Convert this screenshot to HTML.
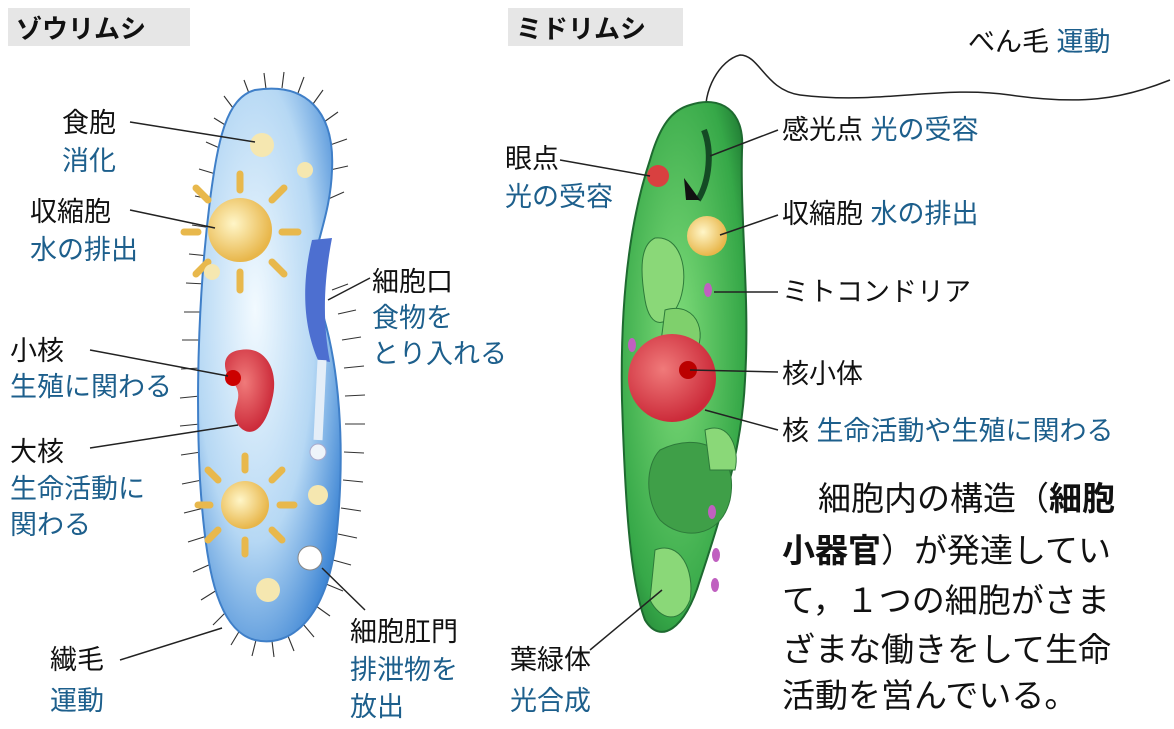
<!DOCTYPE html>
<html><head><meta charset="utf-8"><style>
html,body{margin:0;padding:0;background:#fff;}
svg{display:block;}
text{font-family:"Liberation Sans","Noto Sans CJK JP",sans-serif;font-size:27px;}
.k{fill:#111;}
.b{fill:#1d5f8c;}
.t{font-weight:bold;font-size:26px;fill:#111;}
.ln{stroke:#222;stroke-width:1.5;fill:none;}
.p{font-size:33px;fill:#111;}
</style></head><body>
<svg width="1174" height="729" viewBox="0 0 1174 729">
<defs>
<radialGradient id="gb" cx="40%" cy="40%" r="70%"><stop offset="0" stop-color="#f2faff"/><stop offset="0.6" stop-color="#b6d8f4"/><stop offset="1" stop-color="#3f86d4"/></radialGradient>
<radialGradient id="gg" cx="45%" cy="45%" r="70%"><stop offset="0" stop-color="#7fdc7a"/><stop offset="0.75" stop-color="#36a848"/><stop offset="1" stop-color="#1a6e2e"/></radialGradient>
<radialGradient id="gr" cx="40%" cy="40%" r="60%"><stop offset="0" stop-color="#f07a7a"/><stop offset="1" stop-color="#cc2b3a"/></radialGradient>
<radialGradient id="gy" cx="40%" cy="40%" r="60%"><stop offset="0" stop-color="#fff6c8"/><stop offset="1" stop-color="#e8b64a"/></radialGradient>
</defs>
<rect x="8" y="8" width="182" height="38" fill="#e6e6e6"/>
<text x="16" y="38" class="t">ゾウリムシ</text>
<rect x="508" y="8" width="175" height="38" fill="#e6e6e6"/>
<text x="516" y="38" class="t">ミドリムシ</text>

<g>
<g stroke="#333" stroke-width="1.1">
<path d="M236 112 l-12 -16 M230 128 l-16 -10 M224 150 l-18 -8 M219 175 l-20 -6 M215 200 l-20 -4 M212 228 l-20 -3 M209 256 l-20 -2 M206 284 l-20 -1 M204 312 l-20 0 M202 340 l-20 0 M201 368 l-20 1 M200 396 l-20 2 M200 424 l-20 2 M201 452 l-20 3 M202 480 l-20 4 M204 508 l-20 5 M207 536 l-19 6 M211 564 l-18 8 M217 590 l-16 10 M226 612 l-13 13 M240 630 l-9 15 M256 640 l-4 16 M272 641 l2 16 M288 636 l6 15 M303 624 l11 13 M316 606 l14 10 M326 584 l17 7 M333 560 l18 5 M338 534 l19 4 M341 508 l20 3 M343 480 l20 2 M344 452 l20 1 M345 424 l20 0 M345 396 l20 -1 M344 368 l20 -2 M342 340 l19 -3 M338 314 l18 -4 M332 290 l16 -6 M326 200 l18 -8 M330 170 l18 -4 M330 145 l17 -6 M324 122 l14 -10 M313 104 l10 -14 M298 93 l6 -16 M282 88 l2 -16 M266 89 l-2 -16 M250 96 l-6 -16"/>
</g>
<path d="M255 90 C305 82 335 110 332 170 C330 230 302 262 318 300 C340 360 346 450 336 540 C326 620 290 648 255 640 C215 630 205 560 200 480 C195 380 200 280 210 200 C218 140 226 98 255 90 Z" fill="url(#gb)" stroke="#3f7fc8" stroke-width="2"/>
<path d="M312 240 C300 290 305 330 318 360 L330 362 C322 320 324 280 332 238 Z" fill="#4d6fd0"/>
<path d="M322 360 L318 440" stroke="#e4eef8" stroke-width="9"/>
<circle cx="318" cy="452" r="8" fill="#eef4fa" stroke="#aac"/>
<g stroke="#e8b84c" stroke-width="7" stroke-linecap="round">
<path d="M240 190 v-16 M272 200 l12 -12 M282 232 h16 M272 262 l12 12 M240 272 v18 M208 262 l-12 12 M198 232 h-14 M208 200 l-12 -12"/>
<path d="M245 470 v-14 M272 480 l10 -10 M280 505 h14 M272 530 l10 10 M245 540 v14 M218 530 l-10 10 M210 505 h-12 M218 480 l-10 -10"/>
</g>
<circle cx="240" cy="230" r="32" fill="url(#gy)"/>
<circle cx="245" cy="505" r="24" fill="url(#gy)"/>
<circle cx="262" cy="145" r="12" fill="#f5e7b0"/>
<circle cx="305" cy="170" r="8" fill="#f5e7b0"/>
<circle cx="212" cy="272" r="8" fill="#f5e7b0"/>
<circle cx="318" cy="495" r="10" fill="#f5e7b0"/>
<circle cx="268" cy="590" r="12" fill="#f5e7b0"/>
<path d="M240 350 C265 345 280 370 272 400 C265 430 250 440 238 425 C228 410 245 400 235 385 C220 370 222 352 240 350 Z" fill="url(#gr)"/>
<circle cx="233" cy="378" r="8" fill="#c00"/>
<circle cx="310" cy="558" r="12" fill="#fff" stroke="#888"/>
</g>

<g>
<path d="M706 120 C702 90 720 60 740 55 C760 55 765 90 800 95 C880 105 940 85 1010 95 C1080 105 1120 100 1170 80" class="ln" stroke-width="2"/>
<path d="M690 105 C720 95 745 110 742 150 C740 220 750 300 745 380 C742 450 720 520 700 580 C685 630 660 645 645 620 C630 580 625 500 622 400 C620 300 630 220 650 160 C660 125 672 110 690 105 Z" fill="url(#gg)" stroke="#1e6a30" stroke-width="2"/>
<path d="M704 130 C712 150 710 180 698 200" stroke="#144a24" stroke-width="6" fill="none"/>
<path d="M684 178 L700 200 L686 200 Z" fill="#111"/>
<circle cx="658" cy="176" r="11" fill="#d94040"/>
<circle cx="707" cy="236" r="20" fill="url(#gy)"/>
<path d="M655 238 C680 235 690 270 680 300 C668 330 650 330 645 300 C640 270 640 245 655 238 Z" fill="#8ad878" stroke="#2d7a3a"/>
<path d="M665 310 C700 300 710 340 690 360 L660 350 Z" fill="#7fd06c" stroke="#2d7a3a"/>
<circle cx="672" cy="378" r="44" fill="url(#gr)"/>
<circle cx="688" cy="370" r="9" fill="#b00"/>
<path d="M660 450 C700 430 740 450 730 500 C720 540 680 540 660 520 C645 500 645 465 660 450 Z" fill="#3f9f48" stroke="#2d7a3a"/>
<path d="M705 430 C730 420 740 450 735 470 L710 470 Z" fill="#8ad878" stroke="#2d7a3a"/>
<path d="M655 550 C680 540 695 570 690 600 C680 625 660 620 650 600 Z" fill="#8ad878" stroke="#2d7a3a"/>
<g fill="#c060c0"><ellipse cx="708" cy="290" rx="4" ry="7"/><ellipse cx="632" cy="345" rx="4" ry="7"/><ellipse cx="716" cy="555" rx="4" ry="7"/><ellipse cx="715" cy="585" rx="4" ry="7"/><ellipse cx="712" cy="512" rx="4" ry="7"/></g>
</g>

<g class="ln">
<path d="M130 122 L255 142"/><path d="M130 210 L215 228"/><path d="M90 350 L228 376"/><path d="M90 448 L238 425"/>
<path d="M120 660 L222 628"/><path d="M370 278 L328 300"/><path d="M365 610 L322 568"/>
<path d="M560 160 L650 176"/><path d="M778 130 L710 156"/><path d="M778 215 L720 235"/>
<path d="M778 292 L714 292"/><path d="M778 372 L690 370"/><path d="M778 430 L705 410"/>
<path d="M590 650 L662 590"/>
</g>

<g>
<text x="62" y="132" class="k">食胞</text><text x="62" y="170" class="b">消化</text>
<text x="30" y="221" class="k">収縮胞</text><text x="30" y="259" class="b">水の排出</text>
<text x="10" y="360" class="k">小核</text><text x="10" y="396" class="b">生殖に関わる</text>
<text x="10" y="461" class="k">大核</text><text x="10" y="498" class="b">生命活動に</text><text x="10" y="534" class="b">関わる</text>
<text x="50" y="669" class="k">繊毛</text><text x="50" y="710" class="b">運動</text>
<text x="372" y="291" class="k">細胞口</text><text x="372" y="327" class="b">食物を</text><text x="372" y="363" class="b">とり入れる</text>
<text x="350" y="641" class="k">細胞肛門</text><text x="350" y="679" class="b">排泄物を</text><text x="350" y="716" class="b">放出</text>
</g>
<g>
<text x="968" y="51" class="k">べん毛 <tspan class="b">運動</tspan></text>
<text x="782" y="139" class="k">感光点 <tspan class="b">光の受容</tspan></text>
<text x="505" y="168" class="k">眼点</text><text x="505" y="206" class="b">光の受容</text>
<text x="782" y="223" class="k">収縮胞 <tspan class="b">水の排出</tspan></text>
<text x="782" y="301" class="k">ミトコンドリア</text>
<text x="782" y="383" class="k">核小体</text>
<text x="782" y="440" class="k">核 <tspan class="b">生命活動や生殖に関わる</tspan></text>
<text x="510" y="669" class="k">葉緑体</text><text x="510" y="710" class="b">光合成</text>
</g>
<g>
<text x="818" y="510" class="p">細胞内の構造（<tspan font-weight="bold">細胞</tspan></text>
<text x="782" y="562" class="p"><tspan font-weight="bold">小器官</tspan>）が発達してい</text>
<text x="782" y="612" class="p">て，１つの細胞がさま</text>
<text x="782" y="661" class="p">ざまな働きをして生命</text>
<text x="782" y="707" class="p">活動を営んでいる。</text>
</g>
</svg>
</body></html>
